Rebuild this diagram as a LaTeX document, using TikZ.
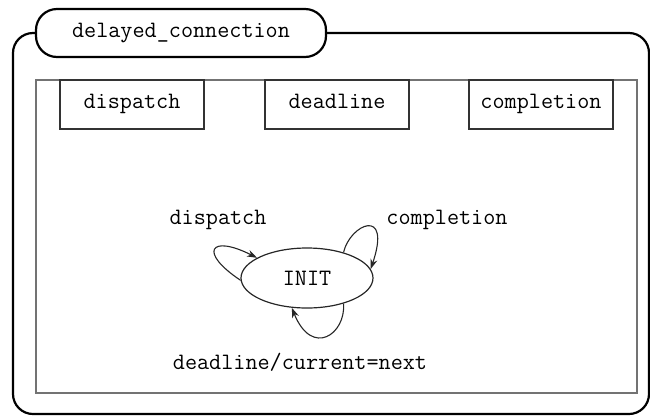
\documentclass[tikz,border=0pt]{standalone}
\usepackage{fontspec}
\usetikzlibrary{arrows.meta,shapes.geometric}
\newcommand{\dfont}{\ttfamily\fontsize{23.5}{27}\selectfont}
\tikzset{
  lbl/.style={font=\dfont, inner sep=0pt, text=black},
  evbox/.style={draw=black!80, line width=1.3pt, minimum width=144pt, minimum height=49pt, inner sep=0pt, font=\dfont, text=black, text height=11.5pt, text depth=3pt},
  loop/.style={draw=black!85, line width=1.1pt, -{Stealth[length=10pt,width=7pt]}},
  frame/.style={draw=black, line width=2.2pt}
}
\begin{document}
\begin{tikzpicture}[x=1pt,y=-1pt]
\useasboundingbox (0,0) rectangle (650,416);
% outer frame
\coordinate (tl) at (36,33);
\draw[frame, rounded corners=20pt] (tl) -- (13,33) -- (13,414) -- (649,414) -- (649,33) -- (326,33);
% tab
\node[draw=black, line width=2.2pt, fill=white, rounded corners=21pt, minimum width=290pt, minimum height=48pt, inner sep=0pt, font=\dfont, text=black] (tab) at (181,33) {delayed\_connection};
% inner region
\node[draw=black!55, line width=2pt, minimum width=601pt, minimum height=313pt, inner sep=0pt] (region) at (336.5,236.5) {};
% event boxes
\node[evbox] (bdisp) at (132,104.5) {dispatch};
\node[evbox] (bdead) at (337,104.5) {deadline};
\node[evbox] (bcomp) at (541,104.5) {completion};
% state
\node[draw=black!85, line width=1.2pt, ellipse, minimum width=132pt, minimum height=60pt, inner sep=0pt, font=\dfont, text=black] (init) at (307,278) {INIT};
% loops
\draw[loop] (init.182) .. controls (198,252) and (210,234) .. (init.158);
\draw[loop] (init.35) .. controls (350,224) and (392,206) .. (init.8);
\draw[loop] (init.-35) .. controls (346,334) and (312,358) .. (init.-117);
% labels
\node[lbl] (ldisp) at (218,220) {dispatch};
\node[lbl] (lcomp) at (447,220) {completion};
\node[lbl] (ldead) at (300,362) {deadline/current=next};
\end{tikzpicture}
\end{document}
